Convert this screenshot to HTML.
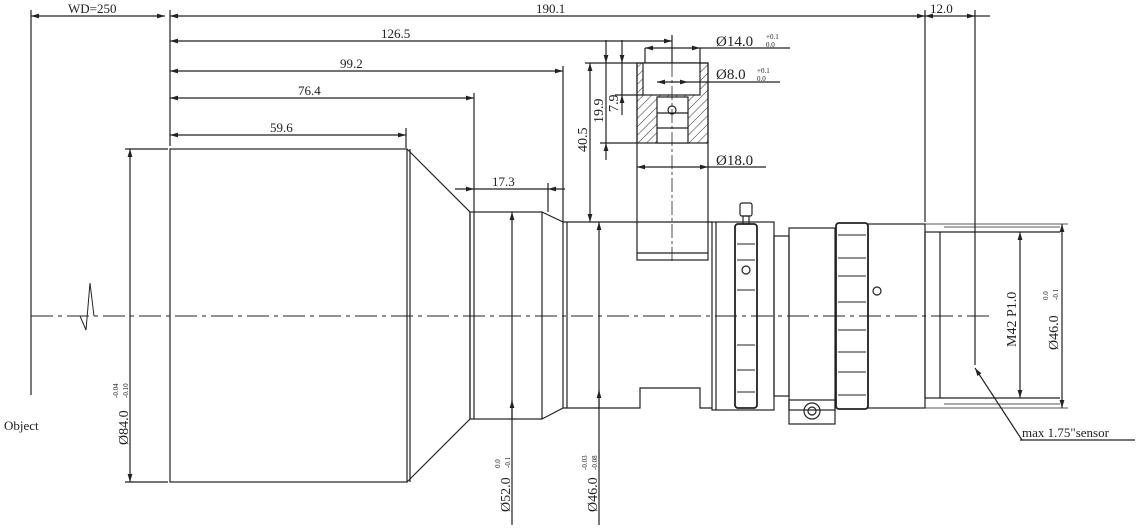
<!DOCTYPE html>
<html><head><meta charset="utf-8"><style>
html,body{margin:0;padding:0;background:#fff;}
svg{display:block;}
text{font-family:"Liberation Serif",serif;fill:#222;}
</style></head><body>
<svg width="1148" height="530" viewBox="0 0 1148 530" xmlns="http://www.w3.org/2000/svg">
<defs>
<marker id="a" viewBox="0 0 10 6" refX="10" refY="3" markerWidth="7" markerHeight="4" orient="auto-start-reverse"><path d="M0,0 L10,3 L0,6 z" fill="#222"/></marker>
<pattern id="h" width="6" height="6" patternUnits="userSpaceOnUse" patternTransform="rotate(45)"><line x1="0" y1="0" x2="0" y2="6" stroke="#333" stroke-width="1"/></pattern>
</defs>
<g stroke="#222" stroke-width="1.2" fill="none">
<!-- extension lines -->
<line x1="31" y1="10" x2="31" y2="395"/>
<line x1="170" y1="10" x2="170" y2="146"/>
<line x1="925" y1="10" x2="925" y2="222"/>
<line x1="975" y1="10" x2="975" y2="365"/>
<line x1="563" y1="66" x2="563" y2="222"/>
<line x1="474" y1="93" x2="474" y2="212"/>
<line x1="406" y1="128" x2="406" y2="148"/>
<line x1="548" y1="183" x2="548" y2="212"/>
<line x1="672" y1="35" x2="672" y2="63"/>
<!-- horizontal dims -->
<line x1="31" y1="16" x2="165" y2="16" marker-start="url(#a)" marker-end="url(#a)"/>
<line x1="170" y1="16" x2="925" y2="16" marker-start="url(#a)" marker-end="url(#a)"/>
<line x1="925" y1="16" x2="975" y2="16" marker-start="url(#a)" marker-end="url(#a)"/>
<line x1="975" y1="16" x2="990" y2="16"/>
<line x1="170" y1="41" x2="672" y2="41" marker-start="url(#a)" marker-end="url(#a)"/>
<line x1="170" y1="71" x2="563" y2="71" marker-start="url(#a)" marker-end="url(#a)"/>
<line x1="170" y1="98" x2="474" y2="98" marker-start="url(#a)" marker-end="url(#a)"/>
<line x1="170" y1="135" x2="406" y2="135" marker-start="url(#a)" marker-end="url(#a)"/>
<line x1="455" y1="189" x2="474" y2="189" marker-end="url(#a)"/>
<line x1="474" y1="189" x2="548" y2="189"/>
<line x1="565" y1="189" x2="548" y2="189" marker-end="url(#a)"/>
<!-- vertical dims left -->
<line x1="130" y1="149" x2="130" y2="482" marker-start="url(#a)" marker-end="url(#a)"/>
<line x1="125" y1="149" x2="168" y2="149"/>
<line x1="125" y1="482" x2="168" y2="482"/>
<line x1="512" y1="212" x2="512" y2="525" marker-start="url(#a)"/>
<line x1="512" y1="420" x2="512" y2="400" marker-end="url(#a)"/>
<line x1="599" y1="222" x2="599" y2="525" marker-start="url(#a)"/>
<line x1="599" y1="408" x2="599" y2="390" marker-end="url(#a)"/>
<!-- centerline -->
<line x1="31" y1="316" x2="990" y2="316" stroke-width="1" stroke-dasharray="22,5,4,5"/>
<path d="M80,316 L86,330 L90,283 L94,316" stroke-width="1"/>
<!-- lens body -->
<rect x="170" y="149" width="237" height="333"/>
<line x1="410" y1="149" x2="410" y2="482"/>
<path d="M407,149 L470,212 L470,419 L407,482"/>
<rect x="470" y="212" width="72" height="207"/>
<line x1="474" y1="212" x2="474" y2="419"/>
<path d="M542,212 L563,222 L563,408 L542,419"/>
<path d="M563,222 L712,222 M563,408 L640,408 L640,388 L700,388 L700,408 L712,408"/>
<line x1="567" y1="222" x2="567" y2="408"/>
<!-- post -->
<rect x="637" y="63" width="71" height="197"/>
<rect x="637" y="63" width="71" height="80" fill="url(#h)"/>
<rect x="643" y="63" width="57" height="32" fill="#fff"/>
<rect x="657" y="97" width="31" height="46" fill="#fff"/>
<line x1="657" y1="113" x2="688" y2="113"/>
<line x1="657" y1="128" x2="688" y2="128"/>
<circle cx="672" cy="110" r="4"/>
<line x1="637" y1="253" x2="708" y2="253"/>
<line x1="672" y1="40" x2="672" y2="262" stroke-width="0.8" stroke-dasharray="14,3,3,3"/>
<line x1="645" y1="48" x2="700" y2="48" marker-start="url(#a)" marker-end="url(#a)"/>
<line x1="645" y1="48" x2="645" y2="63"/><line x1="700" y1="48" x2="700" y2="63"/>
<line x1="700" y1="48" x2="790" y2="48"/>
<line x1="657" y1="82" x2="688" y2="82" marker-start="url(#a)" marker-end="url(#a)"/>
<line x1="688" y1="82" x2="780" y2="82"/>
<line x1="637" y1="167" x2="708" y2="167" marker-start="url(#a)" marker-end="url(#a)"/>
<line x1="708" y1="167" x2="766" y2="167"/>
<line x1="585" y1="63" x2="637" y2="63"/>
<line x1="600" y1="143" x2="637" y2="143"/>
<line x1="615" y1="95" x2="643" y2="95"/>
<line x1="622" y1="40" x2="622" y2="63" marker-end="url(#a)"/>
<line x1="622" y1="63" x2="622" y2="95"/>
<line x1="622" y1="115" x2="622" y2="95" marker-end="url(#a)"/>
<line x1="606" y1="40" x2="606" y2="63" marker-end="url(#a)"/>
<line x1="606" y1="63" x2="606" y2="143"/>
<line x1="606" y1="160" x2="606" y2="143" marker-end="url(#a)"/>
<line x1="590" y1="63" x2="590" y2="222" marker-start="url(#a)" marker-end="url(#a)"/>
<!-- rings -->
<rect x="712" y="222" width="62" height="188"/>
<line x1="716" y1="222" x2="716" y2="410"/>
<rect x="735" y="224" width="22" height="184" rx="3" stroke-width="1.8"/>
<g stroke-width="1"><line x1="737" y1="244" x2="755" y2="244"/><line x1="737" y1="260" x2="755" y2="260"/><line x1="737" y1="290" x2="755" y2="290"/><line x1="737" y1="345" x2="755" y2="345"/><line x1="737" y1="370" x2="755" y2="370"/><line x1="737" y1="392" x2="755" y2="392"/></g>
<circle cx="746" cy="270" r="4"/>
<rect x="740" y="203" width="12" height="13" rx="2"/>
<rect x="743" y="216" width="6" height="8"/>
<rect x="774" y="236" width="15" height="160"/>
<rect x="789" y="228" width="46" height="182"/>
<rect x="789" y="400" width="46" height="24"/>
<circle cx="812" cy="411" r="8"/><circle cx="812" cy="411" r="4"/>
<rect x="836" y="223" width="32" height="186" rx="3" stroke-width="1.8"/>
<g stroke-width="1"><line x1="838" y1="235" x2="866" y2="235"/><line x1="838" y1="258" x2="866" y2="258"/><line x1="838" y1="276" x2="866" y2="276"/><line x1="838" y1="302" x2="866" y2="302"/><line x1="838" y1="330" x2="866" y2="330"/><line x1="838" y1="352" x2="866" y2="352"/><line x1="838" y1="372" x2="866" y2="372"/><line x1="838" y1="395" x2="866" y2="395"/></g>
<rect x="868" y="224" width="57" height="184"/>
<circle cx="877" cy="291" r="4"/>
<rect x="925" y="232" width="15" height="166"/>
<path d="M940,232 L1060,232 M940,398 L1060,398"/>
<path d="M944,227 L1060,227 M944,404 L1060,404" stroke-width="0.8"/>
<!-- right dims -->
<line x1="1020" y1="232" x2="1020" y2="398" marker-start="url(#a)" marker-end="url(#a)"/>
<line x1="1062" y1="224" x2="1062" y2="408" marker-start="url(#a)" marker-end="url(#a)"/>
<line x1="925" y1="224" x2="1068" y2="224" stroke-width="0.8"/>
<line x1="925" y1="408" x2="1068" y2="408" stroke-width="0.8"/>
<line x1="1022" y1="440" x2="975" y2="368" marker-end="url(#a)"/>
<line x1="1020" y1="440" x2="1135" y2="440"/>
</g>
<g font-size="13">
<text x="68" y="13">WD=250</text>
<text x="536" y="13">190.1</text>
<text x="930" y="13">12.0</text>
<text x="381" y="38">126.5</text>
<text x="340" y="68">99.2</text>
<text x="298" y="95">76.4</text>
<text x="270" y="132">59.6</text>
<text x="492" y="186">17.3</text>
<text x="716" y="46" font-size="15">Ø14.0</text>
<text x="716" y="79" font-size="15">Ø8.0</text>
<text x="716" y="165" font-size="15">Ø18.0</text>
<text x="4" y="430">Object</text>
<text x="1022" y="437">max 1.75"sensor</text>
</g>
<g font-size="7">
<text x="766" y="39">+0.1</text><text x="766" y="47">0.0</text>
<text x="757" y="73">+0.1</text><text x="757" y="81">0.0</text>
</g>
<g font-size="14">
<text transform="translate(618,112) rotate(-90)">7.9</text>
<text transform="translate(603,123) rotate(-90)">19.9</text>
<text transform="translate(587,152) rotate(-90)">40.5</text>
<text transform="translate(128,445) rotate(-90)">Ø84.0</text>
<text transform="translate(510,512) rotate(-90)">Ø52.0</text>
<text transform="translate(597,512) rotate(-90)">Ø46.0</text>
<text transform="translate(1016,347) rotate(-90)">M42 P1.0</text>
<text transform="translate(1058,350) rotate(-90)">Ø46.0</text>
</g>
<g font-size="7">
<text transform="translate(118,398) rotate(-90)">-0.04</text><text transform="translate(128,398) rotate(-90)">-0.10</text>
<text transform="translate(500,468) rotate(-90)">0.0</text><text transform="translate(510,468) rotate(-90)">-0.1</text>
<text transform="translate(587,470) rotate(-90)">-0.03</text><text transform="translate(597,470) rotate(-90)">-0.08</text>
<text transform="translate(1048,300) rotate(-90)">0.0</text><text transform="translate(1058,300) rotate(-90)">-0.1</text>
</g>
</svg>
</body></html>
